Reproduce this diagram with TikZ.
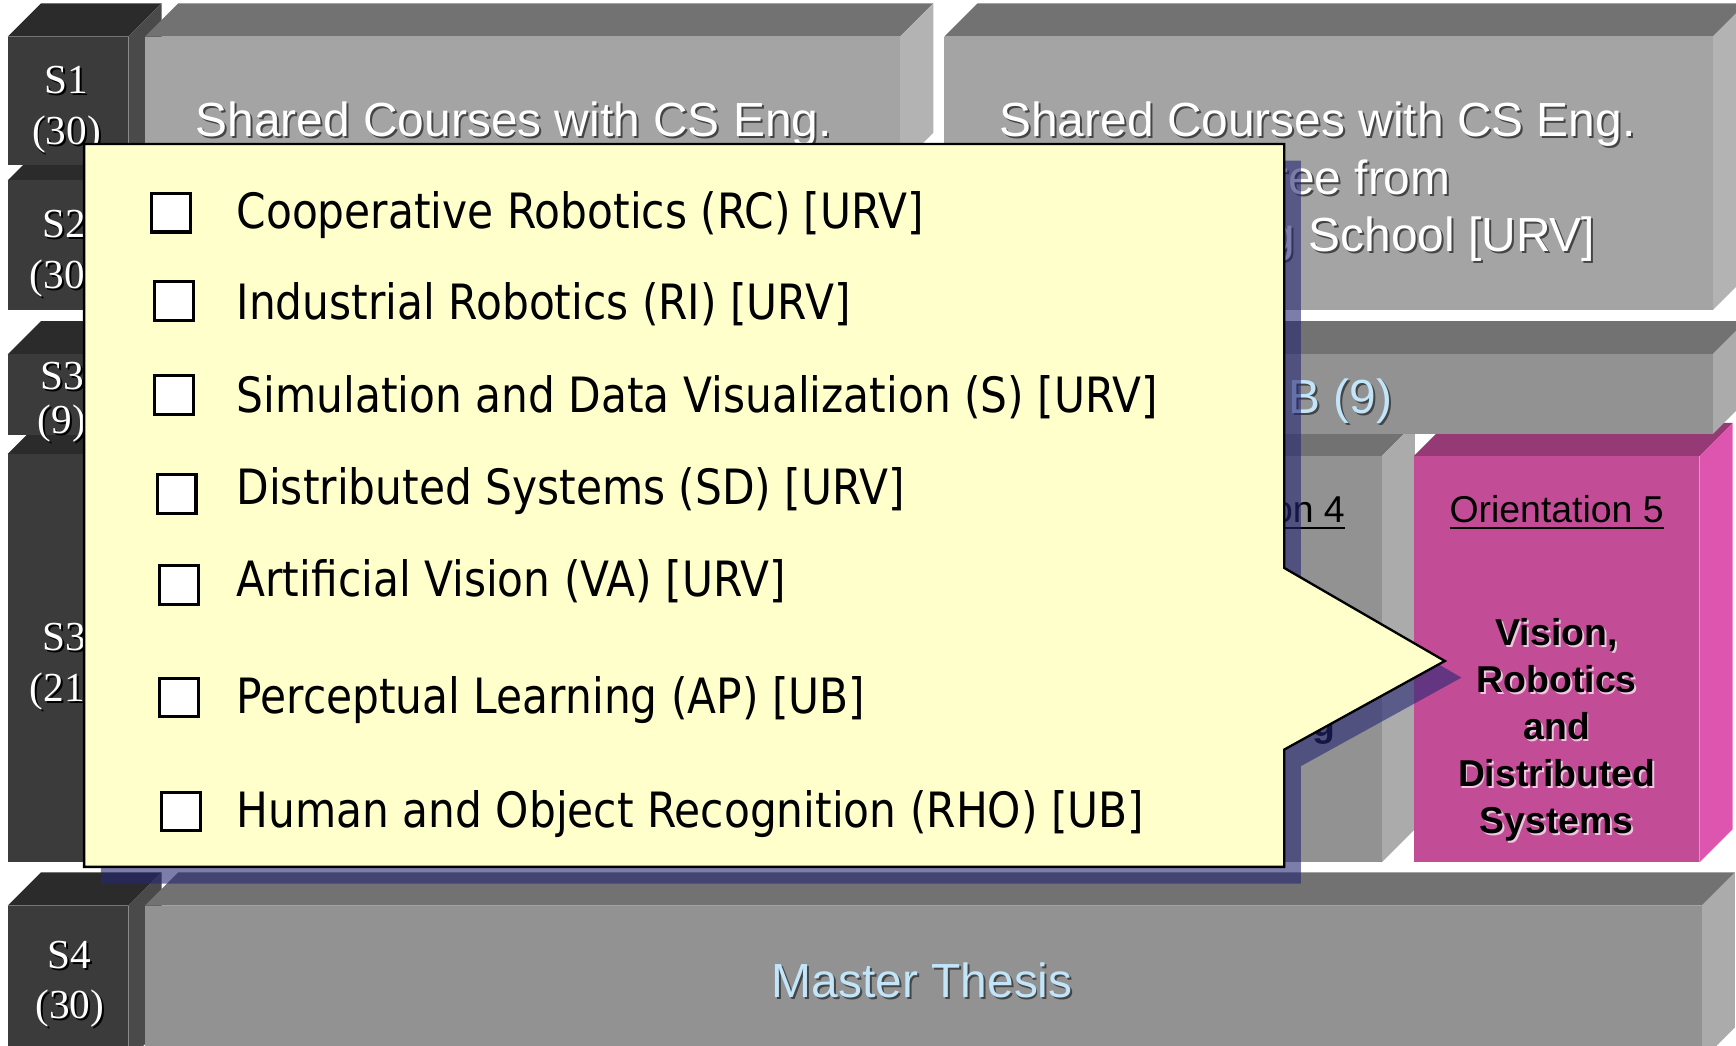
\documentclass[tikz,border=0pt]{standalone}
\usepackage{fontspec}
\setmainfont{Liberation Sans}
\newfontfamily\timesfont{Liberation Serif}
\newfontfamily\listfont{DejaVu Sans}[FakeStretch=0.87]

\definecolor{darkfront}{HTML}{3B3B3B}
\definecolor{darktop}{HTML}{2B2B2B}
\definecolor{darkside}{HTML}{4A4A4A}
\definecolor{greyfront}{HTML}{A4A4A4}
\definecolor{greytop}{HTML}{727272}
\definecolor{greyside}{HTML}{B3B3B3}
\definecolor{midfront}{HTML}{929292}
\definecolor{midside}{HTML}{ABABAB}
\definecolor{pinkfront}{HTML}{C34C97}
\definecolor{pinktop}{HTML}{953A74}
\definecolor{pinkside}{HTML}{DE55B0}
\definecolor{skytext}{HTML}{C2E5FA}
\definecolor{textshade}{HTML}{454545}
\definecolor{calloutfill}{HTML}{FFFFCC}
\definecolor{calloutshade}{HTML}{262673}

% slab: x, y of front top-left, width, height, front, top, side colour
\newcommand{\slab}[7]{%
  \fill[#6] (#1,#2) -- ++(30,-30) -- ++(#3,0) -- ++(-30,30) -- cycle;
  \fill[#7] (#1+#3,#2) -- ++(30,-30) -- ++(0,#4) -- ++(-30,30) -- cycle;
  \fill[#5] (#1,#2) rectangle ++(#3,#4);}

% text with a dropped shadow
\newcommand{\dropped}[2]{\leavevmode\rlap{\kern0.5pt\raisebox{-0.5pt}{\textcolor{#1}{#2}}}#2}

\begin{document}
\begin{tikzpicture}[x=0.01cm, y=-0.01cm,
    blocklabel/.style={text=white, font=\timesfont\fontsize{10.6}{13}\selectfont, align=center, inner sep=0pt},
    headtext/.style={text=white, font=\fontsize{12.3}{14.8}\selectfont, align=center, inner sep=0pt},
    skylabel/.style={text=skytext, font=\fontsize{12.3}{14.8}\selectfont, inner sep=0pt},
    orient/.style={font=\fontsize{9.6}{12}\selectfont, inner sep=0pt},
    pinklabel/.style={font=\bfseries\fontsize{9.6}{12.1}\selectfont, align=center, inner sep=0pt},
    chkbox/.style={draw=black, line width=0.8pt, fill=white, minimum size=0.35cm, inner sep=0pt},
    course/.style={anchor=base west, font=\listfont\fontsize{12.5}{15}\selectfont, inner sep=0pt}]
  \clip (0,0) rectangle (1568,944);

  % S4 row
  \slab{7}{818}{109}{140}{darkfront}{darktop}{darkside}
  \slab{131}{818}{1406}{140}{midfront}{greytop}{midside}
  \node[blocklabel] (s4) at (63,890) {\dropped{black}{S4}\\\dropped{black}{(30)}};
  \node[skylabel] (thesis) at (833,886) {\dropped{textshade}{Master Thesis}};

  % S3 row, orientations
  \slab{7}{410}{109}{369}{darkfront}{darktop}{darkside}
  \slab{988}{412}{260}{367}{midfront}{greytop}{midside}
  \slab{1277}{412}{258}{367}{pinkfront}{pinktop}{pinkside}
  \node[blocklabel] (s3b) at (58,603) {\dropped{black}{S3}\\\dropped{black}{(21)}};
  \node[orient] (or4) at (1118,463) {\underline{Orientation 4}};
  \node[pinklabel, anchor=east] (or4txt) at (1207,660) {ng};
  \node[orient] (or5) at (1406,463) {\underline{Orientation 5}};
  \node[pinklabel] (or5txt) at (1406,660) {\dropped{white!70!pinkfront}{Vision,}\\\dropped{white!70!pinkfront}{Robotics}\\\dropped{white!70!pinkfront}{and}\\\dropped{white!70!pinkfront}{Distributed}\\\dropped{white!70!pinkfront}{Systems}};

  % S3 row, UB courses
  \slab{7}{320}{109}{73}{darkfront}{darktop}{darkside}
  \slab{131}{320}{1416}{72}{midfront}{greytop}{midside}
  \node[blocklabel, font=\timesfont\fontsize{10.6}{11.2}\selectfont] (s3a) at (56,364) {\dropped{black}{S3}\\\dropped{black}{(9)}};
  \node[skylabel, anchor=west] (ubtxt) at (1163,363) {\dropped{textshade}{B (9)}};

  % S2 row
  \slab{7}{163}{109}{117}{darkfront}{darktop}{darkside}
  \node[blocklabel] (s2) at (58,230) {\dropped{black}{S2}\\\dropped{black}{(30)}};

  % S1 row
  \slab{7}{33}{109}{116}{darkfront}{darktop}{darkside}
  \slab{131}{33}{682}{117}{greyfront}{greytop}{greyside}
  \slab{853}{33}{694}{247}{greyfront}{greytop}{greyside}
  \node[blocklabel] (s1) at (60,100) {\dropped{black}{S1}\\\dropped{black}{(30)}};
  \node[headtext] (sharedl) at (464,113) {\dropped{textshade}{Shared Courses with CS Eng.}};
  \node[headtext] (sharedr) at (1190,165) {\dropped{textshade}{Shared Courses with CS Eng.}\\\dropped{textshade}{Degree from}\\\dropped{textshade}{Engineering School [URV]}};

  % callout with the course list
  \fill[calloutshade, opacity=0.6] (91,145) -- (1175,145) -- (1175,528) -- (1320,612) -- (1175,692) -- (1175,798) -- (91,798) -- cycle;
  \filldraw[fill=calloutfill, draw=black, line width=0.6pt] (76,130) -- (1160,130) -- (1160,513) -- (1305,597) -- (1160,677) -- (1160,783) -- (76,783) -- cycle;

  \node[chkbox] (box1) at (154.5,192) {};
  \node[chkbox] (box2) at (157,272) {};
  \node[chkbox] (box3) at (157,356.5) {};
  \node[chkbox] (box4) at (159.5,446) {};
  \node[chkbox] (box5) at (161.5,528.5) {};
  \node[chkbox] (box6) at (161.5,630) {};
  \node[chkbox] (box7) at (163.5,733) {};

  \node[course] (rc) at (213,206) {Cooperative Robotics (RC) [URV]};
  \node[course] (ri) at (213,289) {Industrial Robotics (RI) [URV]};
  \node[course] (sim) at (213,373) {Simulation and Data Visualization (S) [URV]};
  \node[course] (sd) at (213,456) {Distributed Systems (SD) [URV]};
  \node[course] (va) at (213,539) {Artificial Vision (VA) [URV]};
  \node[course] (ap) at (213,644) {Perceptual Learning (AP) [UB]};
  \node[course] (rho) at (213,747) {Human and Object Recognition (RHO) [UB]};
\end{tikzpicture}
\end{document}
